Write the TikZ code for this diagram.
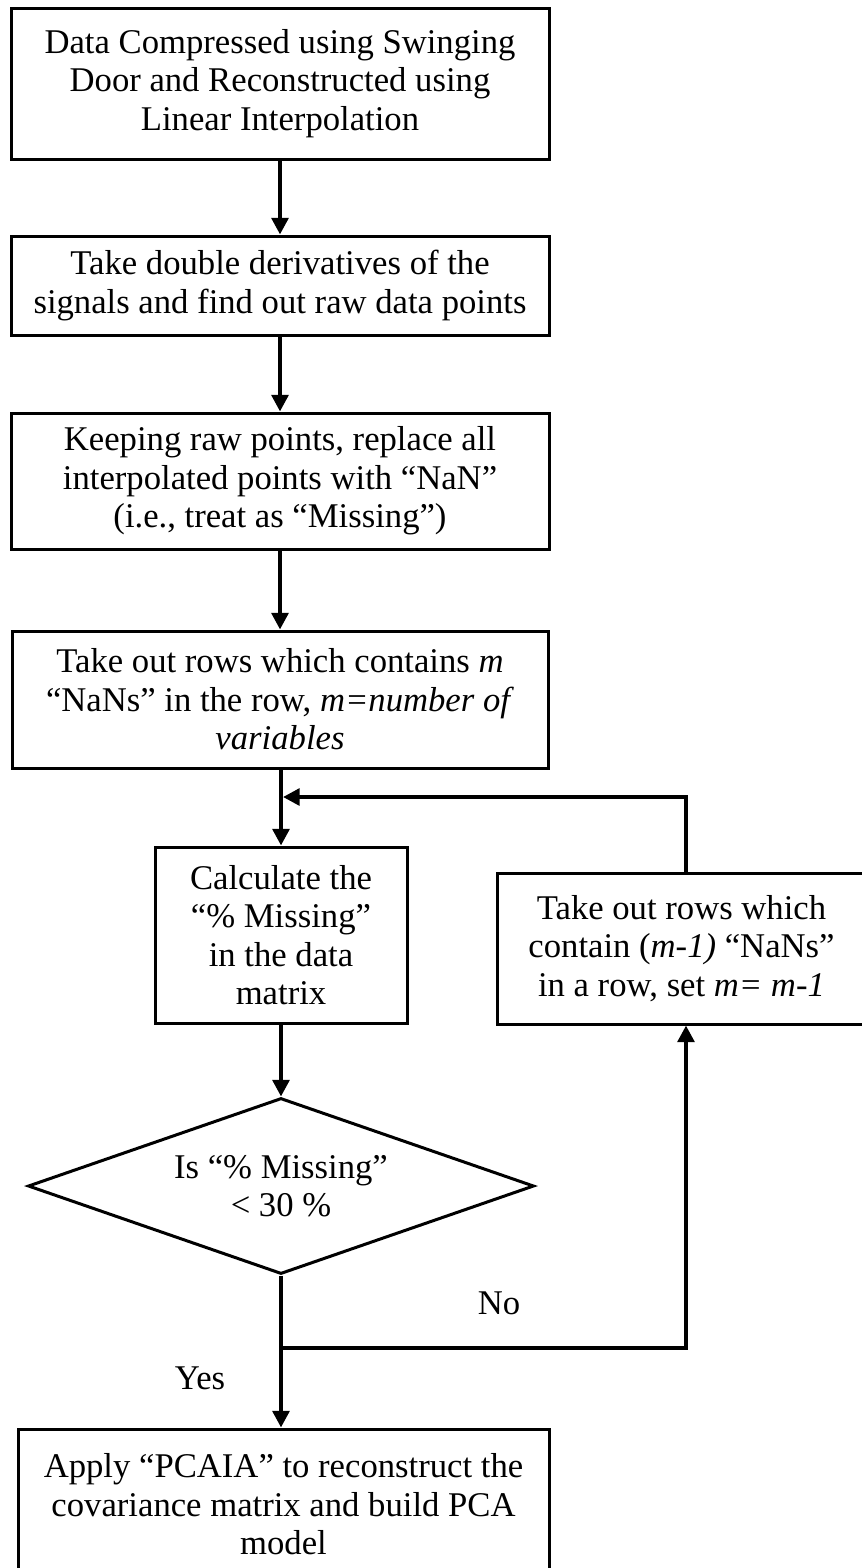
\documentclass[tikz,border=0pt]{standalone}
\usepackage{fontspec}
\setmainfont{Liberation Serif}
\usetikzlibrary{shapes.geometric,arrows.meta,calc}
\begin{document}
\begin{tikzpicture}[x=0.75pt,y=-0.75pt,
  every node/.style={font=\fontsize{26}{28.8}\selectfont, align=center, inner sep=0pt},
  procbox/.style={draw, line width=2.25pt, rectangle},
  decbox/.style={draw, line width=2.25pt, diamond, shape aspect=2.875, minimum width=379.5pt, minimum height=132pt},
  conn/.style={line width=3pt, -{Triangle[length=12.5pt,width=12.5pt]}},
  lbl/.style={}
]
\useasboundingbox (0,0) rectangle (862,1568);
\clip (0,0) rectangle (862,1568);

\node[procbox, minimum width=403.5pt, minimum height=113.25pt] (b1) at (280,83.5)
  {Data Compressed using Swinging\\Door and Reconstructed using\\Linear Interpolation};
\node[procbox, minimum width=403.5pt, minimum height=74.25pt] (b2) at (280,285.5)
  {Take double derivatives of the\\signals and find out raw data points};
\node[procbox, minimum width=403.5pt, minimum height=102pt] (b3) at (280,481)
  {Keeping raw points, replace all\\interpolated points with “NaN”\\(i.e., treat as “Missing”)};
\node[procbox, minimum width=402pt, minimum height=102.75pt] (b4) at (280,699.5)
  {Take out rows which contains \textit{m}\\“NaNs” in the row, \textit{m=number of}\\\textit{variables}};
\node[procbox, minimum width=189pt, minimum height=132pt] (calc) at (281,935)
  {Calculate the\\“\% Missing”\\in the data\\matrix};
\node[procbox, minimum width=276.75pt, minimum height=113.25pt] (rbox) at (681.5,948.5)
  {Take out rows which\\contain (\textit{m-1)} “NaNs”\\in a row, set \textit{m= m-1}};
\node[decbox] (dia) at (281,1186) {Is “\% Missing”\\< 30 \%};
\node[procbox, minimum width=398.25pt, minimum height=113.25pt] (fin) at (283.5,1504.5)
  {Apply “PCAIA” to reconstruct the\\covariance matrix and build PCA\\model};

\node[lbl] (no) at (499,1303) {No};
\node[lbl] (yes) at (200,1378) {Yes};

\coordinate (fb) at (283,797);
\coordinate (jn) at (686,1348);

\draw[conn] (b1) -- (b2);
\draw[conn] (b2) -- (b3);
\draw[conn] (b3) -- (b4);
\draw[conn] (b4.south -| calc.north) -- (calc.north);
\draw[conn] (calc) -- (dia);
\draw[conn] (dia.south) -- (dia.south |- fin.north);
\draw[conn] (dia.south |- jn) -- (jn) -- (jn |- rbox.south);
\draw[conn] (rbox.north -| jn) |- (fb);
\end{tikzpicture}
\end{document}
